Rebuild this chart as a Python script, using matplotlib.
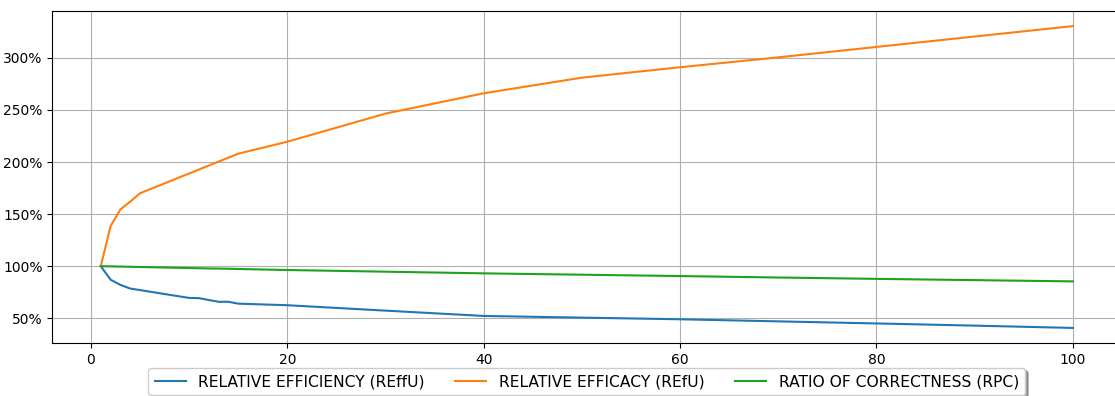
#!/usr/bin/env python3

import matplotlib

matplotlib.use("Agg")
import matplotlib.pyplot as plt
from matplotlib.ticker import MultipleLocator, PercentFormatter

# x positions
steps = [1, 2, 3, 4, 5, 10, 11, 12, 13, 14, 15, 20, 30, 40, 50, 60, 70, 80, 90, 100]

# values in percent
reffu = [100, 87, 82, 78.5, 77, 69.5, 69.3, 67.5, 65.8, 65.8, 64, 62.5, 57.3, 52.2,
         50.6, 49.0, 47.0, 45.0, 42.9, 40.7]
refu = [100, 138.5, 154.5, 162, 170, 189, 192.8, 196.6, 200.4, 204.2, 208, 219.5,
        246.5, 266, 281, 291, 300.5, 310.5, 320.5, 330.5]
rpc = [100, 99.8, 99.6, 99.4, 99.2, 98.2, 98.0, 97.8, 97.7, 97.5, 97.3, 96.3, 94.7,
       93.1, 91.8, 90.5, 89.1, 87.8, 86.6, 85.4]

labels = [
    "RELATIVE EFFICIENCY (REffU)",
    "RELATIVE EFFICACY (REfU)",
    "RATIO OF CORRECTNESS (RPC)",
]
colors = ["tab:blue", "tab:orange", "#1ca21c"]


def main():
    fig = plt.figure(figsize=(11.15, 3.96), dpi=100)
    ax = fig.add_axes([0.0468, 0.1338, 0.959, 0.8384])

    for values, label, color in zip([reffu, refu, rpc], labels, colors):
        ax.plot(steps, values, label=label, color=color, linewidth=1.5)

    ax.yaxis.set_major_locator(MultipleLocator(50))
    ax.yaxis.set_major_formatter(PercentFormatter(xmax=100, decimals=0))
    ax.grid(True)

    ax.legend(
        loc="upper center",
        bbox_to_anchor=(0.5, -0.075),
        ncol=3,
        shadow=True,
        fontsize=11.15,
        borderaxespad=0,
    )

    fig.savefig("out.png", dpi=100)
    plt.close(fig)


if __name__ == "__main__":
    main()
